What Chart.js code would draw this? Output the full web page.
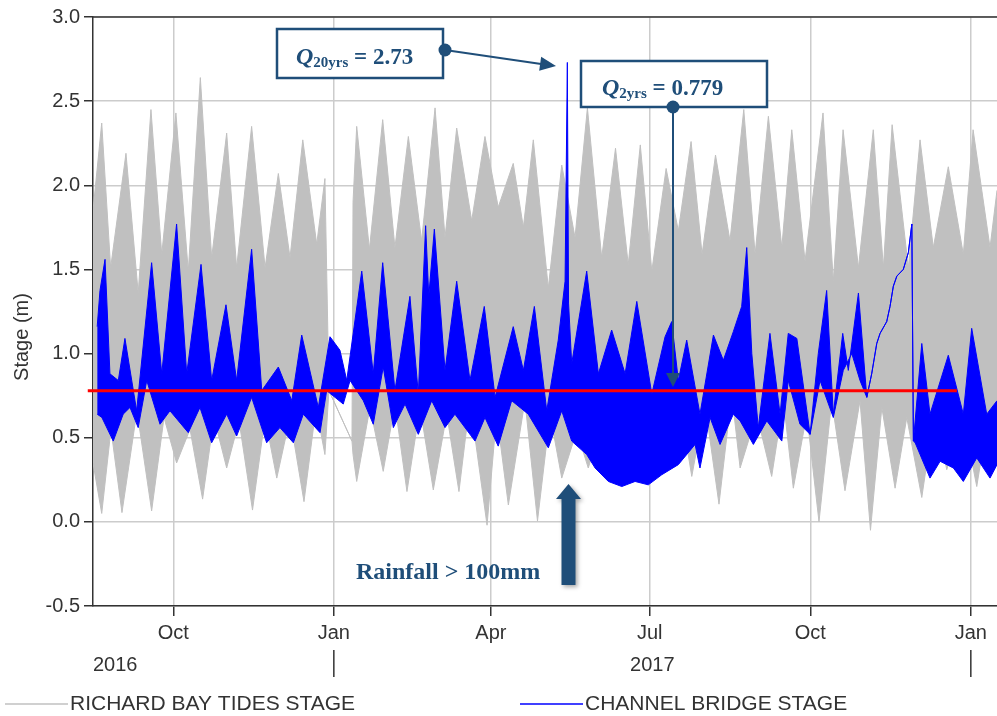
<!DOCTYPE html>
<html>
<head>
<meta charset="utf-8">
<title>Channel bridge stage vs Richard Bay tides</title>
<script src="https://cdn.jsdelivr.net/npm/chart.js@4.4.1/dist/chart.umd.min.js"></script>
<style>
  html, body { margin:0; padding:0; background:#fff; overflow:hidden; }
</style>
</head>
<body>
<canvas id="stageChart" width="997" height="716"></canvas>
<script>
/* ============================
   Data (x = days from 1 Oct 2016)
============================ */
const monthTickDays   = [0, 92, 182, 273, 365, 457];
const monthTickLabels = ['Oct', 'Jan', 'Apr', 'Jul', 'Oct', 'Jan'];
const yearLabels      = ['2016', '2017'];
const yearStartDays   = [-274, 92];
const yearEndDays     = [92, 457];

// Richard Bay tides: upper / lower envelope of the tidal record
const tideTopDay = [-46.0,-41.0,-35.9,-27.1,-20.1,-12.8,-6.6,1.5,8.6,15.5,22.0,30.6,36.3,44.9,52.6,60.2,66.9,74.2,82.2,86.9,89.2,102.4,103.0,105.1,112.4,120.0,127.0,134.7,142.3,150.0,155.7,162.4,171.0,178.6,186.2,194.8,200.6,206.3,214.9,222.6,230.2,237.3,245.5,253.4,260.7,267.6,274.2,282.4,289.4,296.7,303.0,310.7,319.0,326.9,333.4,341.0,348.7,354.4,362.0,372.3,378.2,383.8,392.6,401.1,406.9,411.9,421.2,427.9,435.5,444.1,452.7,458.3,468.0,472.0];
const tideTopVal = [1.85,2.37,1.51,2.19,1.36,2.45,1.59,2.43,1.49,2.64,1.57,2.31,1.51,2.35,1.51,2.07,1.57,2.27,1.65,2.04,0.78,0.48,1.90,2.35,1.62,2.39,1.63,2.29,1.67,2.46,1.69,2.34,1.79,2.29,1.87,2.13,1.75,2.27,1.39,2.12,1.69,2.46,1.57,2.22,1.53,2.24,1.49,2.10,1.73,2.26,1.59,2.18,1.67,2.45,1.59,2.41,1.63,2.33,1.55,2.43,1.43,2.33,1.51,2.33,1.51,2.36,1.51,2.27,1.63,2.11,1.59,2.33,1.63,1.97];
const tideBotDay = [-46.0,-41.0,-35.7,-29.4,-20.8,-12.4,-5.3,1.9,9.6,16.8,23.3,30.6,37.7,45.4,52.6,59.3,66.9,74.9,81.8,86.9,89.2,102.4,103.0,105.1,112.7,120.3,127.0,133.9,141.4,149.0,156.7,163.7,170.0,179.8,185.3,192.0,201.5,208.7,215.9,222.6,231.2,237.8,245.5,254.1,260.7,268.4,275.1,282.8,289.4,297.1,304.7,312.7,320.0,324.8,334.3,342.9,349.6,355.3,363.0,370.0,377.3,384.9,393.5,399.5,406.0,413.6,420.3,428.9,436.5,443.2,452.7,460.4,467.1,472.0];
const tideBotVal = [0.35,0.05,0.55,0.055,0.66,0.065,0.62,0.35,0.55,0.135,0.62,0.32,0.60,0.07,0.62,0.26,0.62,0.12,0.68,0.40,0.78,0.48,0.40,0.24,0.68,0.30,0.70,0.18,0.68,0.19,0.64,0.18,0.72,-0.02,0.64,0.10,0.72,0.005,0.64,0.26,0.54,0.32,0.58,0.24,0.64,0.29,0.80,0.38,0.76,0.27,0.70,0.105,0.76,0.32,0.64,0.27,0.72,0.20,0.64,0.0,0.72,0.185,0.72,-0.05,0.68,0.20,0.62,0.145,0.68,0.31,0.62,0.21,0.64,0.38];

// Channel bridge stage: upper / lower envelope
const bridgeTopDay = [-43.6,-42.0,-39.1,-36.3,-31.5,-27.7,-21.0,-12.4,-6.6,1.9,7.7,15.9,22.0,30.2,36.3,44.9,50.7,60.2,67.9,73.6,83.1,89.8,95.5,99.4,108.0,114.6,120.0,127.0,135.6,140.4,144.6,146.4,149.6,155.7,162.4,170.0,178.2,184.4,194.8,200.6,206.9,214.0,220.6,224.5,225.8,226.5,228.3,236.9,243.6,251.2,258.9,265.6,274.2,281.8,285.6,289.4,294.2,301.8,309.5,315.2,320.9,325.7,328.6,331.5,335.2,341.9,347.7,352.4,357.3,364.9,369.6,374.4,378.2,383.6,386.8,392.6,397.4,400.2,403.1,405.0,408.8,410.7,412.6,414.6,418.3,421.2,423.2,424.1,428.9,433.6,444.1,452.7,457.5,466.1,472.0];
const bridgeTopVal = [1.16,1.375,1.56,0.88,0.84,1.09,0.66,1.54,0.88,1.77,0.88,1.53,0.84,1.29,0.84,1.62,0.78,0.92,0.72,1.11,0.68,1.10,1.02,0.84,1.49,0.88,1.54,0.78,1.34,0.76,1.76,1.34,1.74,0.90,1.43,0.84,1.28,0.74,1.16,0.90,1.28,0.66,1.08,1.43,2.73,1.30,0.94,1.49,0.88,1.14,0.88,1.31,0.76,1.10,1.19,0.84,1.08,0.64,1.11,0.96,1.13,1.28,1.63,1.00,0.56,1.12,0.64,1.12,1.09,0.52,1.00,1.375,0.64,1.12,0.90,1.36,0.74,0.88,1.06,1.12,1.19,1.28,1.40,1.46,1.50,1.60,1.77,0.48,1.06,0.64,0.99,0.64,1.15,0.64,0.72];
const bridgeBotDay = [-43.6,-40.9,-34.4,-28.7,-24.8,-20.1,-15.2,-7.6,-1.9,8.6,15.3,22.0,30.6,36.3,44.9,53.5,61.1,68.8,74.5,84.1,87.9,97.4,101.3,108.9,114.6,120.3,126.1,132.8,140.4,148.1,155.7,161.4,172.9,178.6,186.2,193.9,203.4,214.9,222.6,228.3,236.9,241.7,249.3,257.0,264.6,272.2,279.9,289.4,299.0,301.8,307.6,313.3,320.9,324.8,332.4,340.1,348.7,352.4,359.1,364.9,370.6,378.2,383.9,388.8,393.5,397.4,400.2,403.1,405.0,408.8,410.7,412.6,414.6,418.3,421.2,423.2,424.1,425.1,433.6,439.4,447.0,452.7,460.4,468.0,472.0];
const bridgeBotVal = [0.64,0.62,0.48,0.64,0.68,0.56,0.84,0.58,0.66,0.53,0.68,0.47,0.64,0.51,0.74,0.47,0.56,0.47,0.64,0.53,0.78,0.70,0.84,0.72,0.58,0.92,0.56,0.70,0.52,0.72,0.56,0.64,0.48,0.62,0.45,0.72,0.64,0.44,0.66,0.48,0.40,0.32,0.24,0.21,0.24,0.22,0.28,0.34,0.46,0.32,0.62,0.46,0.64,0.60,0.46,0.60,0.48,0.84,0.58,0.52,0.84,0.62,0.90,1.00,0.84,0.74,0.88,1.06,1.12,1.19,1.28,1.40,1.46,1.50,1.60,1.77,0.48,0.47,0.26,0.36,0.32,0.24,0.38,0.26,0.34];

// Q2yrs reference level
const q2Level   = 0.779;
const q2LineDay = [-49, 449];

/* ============================
   Drawing
============================ */
const SANS  = '"Liberation Sans", Arial, sans-serif';
const SERIF = '"Liberation Serif", "Times New Roman", serif';
const NAVY  = '#1f4e79';
const INK   = '#333333';

const pts = (xs, ys) => xs.map((x, i) => ({ x, y: ys[i] }));

function arrowHead(ctx, x1, y1, x2, y2, len, half){
  const ang = Math.atan2(y2 - y1, x2 - x1);
  ctx.beginPath();
  ctx.moveTo(x2, y2);
  ctx.lineTo(x2 - len*Math.cos(ang) + half*Math.sin(ang), y2 - len*Math.sin(ang) - half*Math.cos(ang));
  ctx.lineTo(x2 - len*Math.cos(ang) - half*Math.sin(ang), y2 - len*Math.sin(ang) + half*Math.cos(ang));
  ctx.closePath(); ctx.fill();
}

function qLabel(ctx, x, base, sub, rest){
  ctx.fillStyle = NAVY; ctx.textBaseline = 'alphabetic'; ctx.textAlign = 'left';
  ctx.font = `italic bold 24px ${SERIF}`; ctx.fillText('Q', x, base);
  x += ctx.measureText('Q').width;
  ctx.font = `bold 15px ${SERIF}`; ctx.fillText(sub, x, base + 3);
  x += ctx.measureText(sub).width;
  ctx.font = `bold 23px ${SERIF}`; ctx.fillText(rest, x, base);
}

const decor = {
  id: 'decor',
  afterDraw(chart){
    const { ctx, chartArea: a, scales: { x } } = chart;
    ctx.save();

    // top frame line
    ctx.strokeStyle = INK; ctx.lineWidth = 1.5;
    ctx.beginPath(); ctx.moveTo(a.left, a.top); ctx.lineTo(a.right, a.top); ctx.stroke();

    // y axis title
    ctx.fillStyle = INK; ctx.font = `20px ${SANS}`;
    ctx.save(); ctx.translate(22, 337); ctx.rotate(-Math.PI/2);
    ctx.textAlign = 'center'; ctx.textBaseline = 'middle';
    ctx.fillText('Stage (m)', 0, 0); ctx.restore();

    // year row
    ctx.textBaseline = 'alphabetic';
    yearLabels.forEach((lab, i) => {
      if (yearStartDays[i] < x.min){ ctx.textAlign = 'left'; ctx.fillText(lab, a.left, 671); }
      else {
        ctx.textAlign = 'center';
        const cx = (x.getPixelForValue(yearStartDays[i]) + x.getPixelForValue(Math.min(yearEndDays[i], x.max))) / 2;
        ctx.fillText(lab, cx, 671);
      }
      const sx = x.getPixelForValue(yearEndDays[i]);
      ctx.beginPath(); ctx.moveTo(sx, 650); ctx.lineTo(sx, 677); ctx.stroke();
    });

    // legend
    ctx.font = `21px ${SANS}`; ctx.textAlign = 'left';
    ctx.lineWidth = 1.5;
    ctx.strokeStyle = '#c0c0c0'; ctx.beginPath(); ctx.moveTo(5, 704); ctx.lineTo(68, 704); ctx.stroke();
    ctx.fillText('RICHARD BAY TIDES STAGE', 70, 710);
    ctx.strokeStyle = '#0000ff'; ctx.beginPath(); ctx.moveTo(520, 704); ctx.lineTo(583, 704); ctx.stroke();
    ctx.fillText('CHANNEL BRIDGE STAGE', 585, 710);

    // annotation boxes
    ctx.strokeStyle = NAVY; ctx.lineWidth = 2.5;
    ctx.fillStyle = '#fff';
    ctx.fillRect(277, 29, 166, 49); ctx.strokeRect(277, 29, 166, 49);
    ctx.fillRect(581, 61, 186, 46); ctx.strokeRect(581, 61, 186, 46);
    qLabel(ctx, 296, 64, '20yrs', ' = 2.73');
    qLabel(ctx, 602, 95, '2yrs', ' = 0.779');

    // connectors
    ctx.fillStyle = NAVY; ctx.lineWidth = 2;
    ctx.beginPath(); ctx.moveTo(445, 50); ctx.lineTo(548, 65); ctx.stroke();
    arrowHead(ctx, 445, 50, 556, 66, 16, 7);
    ctx.beginPath(); ctx.arc(445, 50, 6.5, 0, Math.PI*2); ctx.fill();
    ctx.beginPath(); ctx.moveTo(673, 107); ctx.lineTo(673, 378); ctx.stroke();
    arrowHead(ctx, 673, 107, 673, 387, 14, 7);
    ctx.beginPath(); ctx.arc(673, 107, 6.5, 0, Math.PI*2); ctx.fill();

    // rainfall arrow
    ctx.save();
    ctx.shadowColor = 'rgba(0,0,0,0.35)'; ctx.shadowBlur = 4; ctx.shadowOffsetX = 2; ctx.shadowOffsetY = 2;
    ctx.beginPath();
    ctx.moveTo(568.5, 484); ctx.lineTo(581, 499); ctx.lineTo(575.5, 499); ctx.lineTo(575.5, 585);
    ctx.lineTo(561.5, 585); ctx.lineTo(561.5, 499); ctx.lineTo(556, 499); ctx.closePath(); ctx.fill();
    ctx.restore();
    ctx.font = `bold 24px ${SERIF}`; ctx.textAlign = 'left'; ctx.textBaseline = 'alphabetic';
    ctx.fillText('Rainfall > 100mm', 356, 579);

    ctx.restore();
  }
};

const ctx = document.getElementById('stageChart').getContext('2d');
new Chart(ctx, {
  type: 'line',
  data: {
    datasets: [
      { label: 'Q2yrs', data: pts(q2LineDay, q2LineDay.map(() => q2Level)), borderColor: '#ff0000', borderWidth: 3, order: 0,
        clip: { left: 6, top: 0, right: 0, bottom: 0 } },
      { label: 'CHANNEL BRIDGE STAGE', data: pts(bridgeTopDay, bridgeTopVal), borderColor: '#0000ff', borderWidth: 1, order: 1 },
      { label: 'bridge low', data: pts(bridgeBotDay, bridgeBotVal), borderColor: '#0000ff', borderWidth: 1, backgroundColor: '#0000ff', fill: 1, order: 1 },
      { label: 'RICHARD BAY TIDES STAGE', data: pts(tideTopDay, tideTopVal), borderColor: '#c0c0c0', borderWidth: 1, order: 2 },
      { label: 'tide low', data: pts(tideBotDay, tideBotVal), borderColor: '#c0c0c0', borderWidth: 1, backgroundColor: '#c0c0c0', fill: 3, order: 2 }
    ]
  },
  options: {
    responsive: false, animation: false,
    layout: { padding: { top: 17, right: 0, left: 0, bottom: 0 } },
    elements: { point: { radius: 0 }, line: { tension: 0 } },
    plugins: { legend: { display: false }, tooltip: { enabled: false } },
    scales: {
      x: {
        type: 'linear', min: -46, max: 472,
        afterBuildTicks: axis => { axis.ticks = monthTickDays.map(v => ({ value: v })); },
        afterFit: s => { s.height = 110; },
        ticks: { callback: (v, i) => monthTickLabels[i], font: { family: SANS, size: 20 }, color: INK, padding: 5, maxRotation: 0, autoSkip: false },
        grid: { color: '#cccccc', lineWidth: 1.5, tickColor: INK, tickLength: 10, tickWidth: 1.5 },
        border: { color: INK, width: 1.5 }
      },
      y: {
        min: -0.5, max: 3.0,
        afterFit: s => { s.width = 93; },
        ticks: { stepSize: 0.5, callback: v => v.toFixed(1), font: { family: SANS, size: 20 }, color: INK, padding: 4 },
        grid: { color: '#cccccc', lineWidth: 1.5, tickColor: INK, tickLength: 9, tickWidth: 1.5 },
        border: { color: INK, width: 1.5 }
      }
    }
  },
  plugins: [decor]
});
</script>
</body>
</html>
